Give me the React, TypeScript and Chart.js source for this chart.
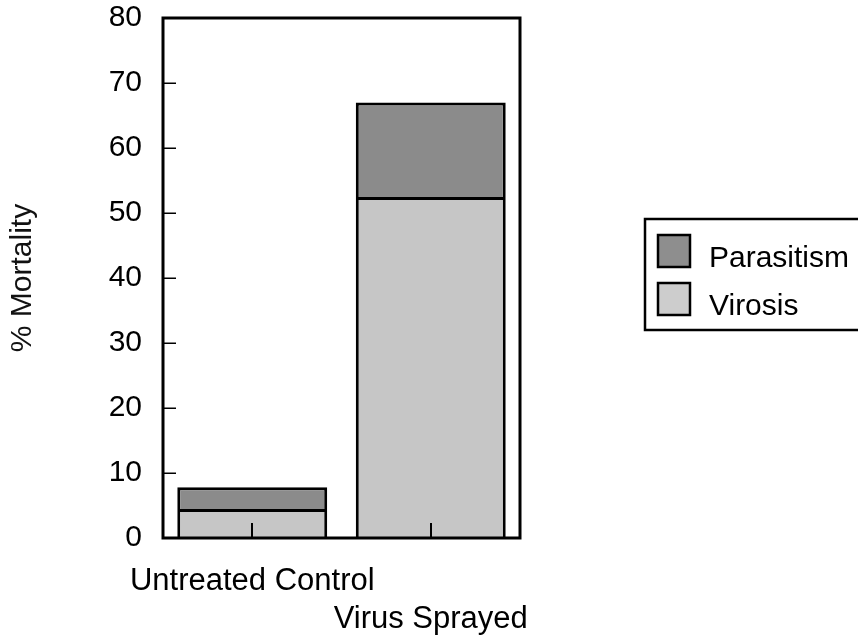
import React, { useEffect, useRef } from "react";
import { Chart, registerables } from "chart.js";

Chart.register(...registerables);

const categories = ["Untreated Control", "Virus Sprayed"];
const seriesNames = ["Virosis", "Parasitism"];
const virosis = [4, 52];
const parasitism = [3.8, 15];
const yTickValues = [0, 10, 20, 30, 40, 50, 60, 70, 80];
const yTitle = "% Mortality";

const FONT = "'Liberation Sans', Arial, Helvetica, sans-serif";
const colors = ["#c6c6c6", "#8b8b8b"];

const framePlugin = {
  id: "framePlugin",
  beforeDatasetsDraw(chart: any) {
    const { ctx, chartArea: a, scales } = chart;
    ctx.save();
    ctx.strokeStyle = "#000";
    ctx.lineWidth = 1.5;
    yTickValues.forEach((v) => {
      const y = Math.round(scales.y.getPixelForValue(v)) + 0.25;
      ctx.beginPath();
      ctx.moveTo(a.left, y);
      ctx.lineTo(a.left + 13, y);
      ctx.stroke();
    });
    ctx.restore();
  },
  afterDatasetsDraw(chart: any) {
    const { ctx, chartArea: a, scales } = chart;
    ctx.save();
    ctx.strokeStyle = "#000";
    ctx.lineWidth = 2;
    categories.forEach((_, i) => {
      const x = Math.round(scales.x.getPixelForTick(i));
      ctx.beginPath();
      ctx.moveTo(x, a.bottom);
      ctx.lineTo(x, a.bottom - 15);
      ctx.stroke();
    });
    ctx.lineWidth = 3;
    ctx.strokeRect(a.left, a.top, a.right - a.left, a.bottom - a.top);

    // legend
    const ds = chart.data.datasets.slice().reverse();
    ctx.lineWidth = 2.5;
    ctx.strokeRect(645, 219, 240, 111);
    ds.forEach((d: any, i: number) => {
      const sy = 235 + i * 48;
      ctx.fillStyle = d.legendColor;
      ctx.fillRect(658, sy, 32, 32);
      ctx.lineWidth = 2.5;
      ctx.strokeRect(658, sy, 32, 32);
      ctx.fillStyle = "#000";
      ctx.font = `30px ${FONT}`;
      ctx.textBaseline = "alphabetic";
      ctx.textAlign = "left";
      ctx.fillText(d.label, 709, sy + 32);
    });
    ctx.restore();
  },
};

export default function App() {
  const ref = useRef<HTMLCanvasElement | null>(null);

  useEffect(() => {
    if (!ref.current) return;
    const chart = new Chart(ref.current, {
      type: "bar",
      data: {
        labels: categories,
        datasets: [
          {
            label: seriesNames[0],
            data: virosis,
            backgroundColor: colors[0],
            legendColor: "#cdcdcd",
            borderColor: "#000",
            borderWidth: { top: 0, left: 3, right: 3, bottom: 0 },
            borderSkipped: false,
            categoryPercentage: 1,
            barPercentage: 0.84,
          } as any,
          {
            label: seriesNames[1],
            data: parasitism,
            backgroundColor: colors[1],
            legendColor: "#8e8e8e",
            borderColor: "#000",
            borderWidth: 3,
            borderSkipped: false,
            categoryPercentage: 1,
            barPercentage: 0.84,
          } as any,
        ],
      },
      options: {
        animation: false,
        responsive: false,
        maintainAspectRatio: false,
        devicePixelRatio: 1,
        layout: { padding: { left: 0, top: 18, right: 338, bottom: 0 } },
        plugins: {
          legend: { display: false },
          tooltip: { enabled: false },
        },
        scales: {
          x: {
            stacked: true,
            offset: true,
            grid: { display: false, drawTicks: false },
            border: { display: false },
            ticks: {
              autoSkip: false,
              maxRotation: 0,
              minRotation: 0,
              padding: 24,
              color: "#000",
              font: { family: FONT, size: 31, lineHeight: 1.23 },
              callback: (_v: any, i: number) =>
                i % 2 === 0 ? [categories[i], ""] : ["", categories[i]],
            },
            afterFit: (s: any) => {
              s.height = 103;
              s.paddingLeft = 0;
              s.paddingRight = 0;
            },
          },
          y: {
            stacked: true,
            min: 0,
            max: 80,
            grid: { display: false, drawTicks: false },
            border: { display: false },
            ticks: {
              stepSize: 10,
              padding: 21,
              color: "#000",
              font: { family: FONT, size: 30, lineHeight: 1.2 },
            },
            title: {
              display: true,
              text: yTitle,
              color: "#111",
              font: { family: FONT, size: 30, lineHeight: 1.2 },
              padding: { top: 5, bottom: 0 },
            },
            afterFit: (s: any) => {
              s.width = 163;
              s.paddingTop = 0;
              s.paddingBottom = 0;
            },
          },
        },
      } as any,
      plugins: [framePlugin],
    });
    return () => chart.destroy();
  }, []);

  return (
    <div style={{ position: "absolute", left: 0, top: 0, width: 858, height: 641, background: "#fff" }}>
      <canvas ref={ref} width={858} height={641} style={{ width: 858, height: 641, display: "block" }} />
    </div>
  );
}
